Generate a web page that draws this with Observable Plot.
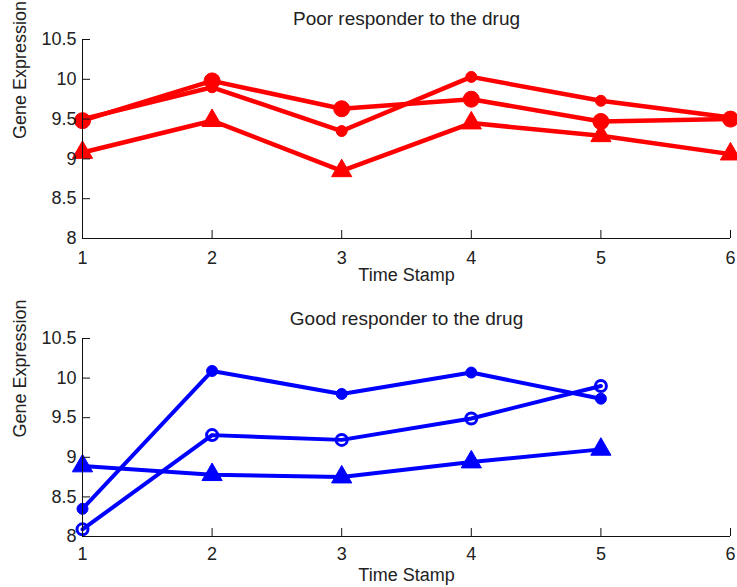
<!DOCTYPE html>
<html><head><meta charset="utf-8">
<script src="https://cdn.jsdelivr.net/npm/d3@7"></script>
<script src="https://cdn.jsdelivr.net/npm/@observablehq/plot@0.6"></script>
<style>
body{margin:0;background:#fff;}
#chart svg{display:block;overflow:visible}
</style></head><body><div id="chart"></div>
<script>
// ---- data ----
const poorTitle = "Poor responder to the drug";
const goodTitle = "Good responder to the drug";
const xLabel = "Time Stamp";
const yLabel = "Gene Expression";

const poorTime = [1, 2, 3, 4, 5, 6];
const poorBigCircle = [9.48, 9.98, 9.63, 9.75, 9.47, 9.50];
const poorSmallCircle = [9.50, 9.90, 9.35, 10.03, 9.73, 9.52];
const poorTriangle = [9.08, 9.48, 8.85, 9.45, 9.29, 9.06];

const goodTime = [1, 2, 3, 4, 5];
const goodFilledCircle = [8.35, 10.09, 9.80, 10.07, 9.74];
const goodOpenCircle = [8.09, 9.28, 9.22, 9.49, 9.90];
const goodTriangle = [8.89, 8.78, 8.75, 8.94, 9.10];

const xTicks = [1, 2, 3, 4, 5, 6];
const xTickLabels = ["1", "2", "3", "4", "5", "6"];
const yTicks = [8, 8.5, 9, 9.5, 10, 10.5];
const yTickLabels = ["8", "8.5", "9", "9.5", "10", "10.5"];

// ---- helpers ----
const W = 737, ML = 82, MR = 7;
const FONT = "Liberation Sans, Arial, sans-serif";
const TXT = "#222";

const rows = (times, values) => times.map((t, i) => ({t, v: values[i]}));

function panel({title, series, height, marginTop, marginBottom, titleDy, tickPad, labelDy, lineW}) {
  const frameH = height - marginTop - marginBottom;
  const frameW = W - ML - MR;
  const marks = [];
  for (const s of series) {
    const data = rows(s.times, s.values);
    marks.push(Plot.line(data, {x: "t", y: "v", stroke: s.color, strokeWidth: lineW, strokeLinejoin: "round"}));
    marks.push(Plot.dot(data, {x: "t", y: "v", symbol: s.symbol, r: s.r,
      fill: s.open ? "none" : s.color, stroke: s.color, strokeWidth: s.open ? 3 : 1}));
  }
  marks.push(
    Plot.ruleX([1], {stroke: "#111", strokeWidth: 1}),
    Plot.ruleY([8], {stroke: "#111", strokeWidth: 1}),
    Plot.tickX(xTicks, {x: d => d, insetTop: frameH - 8, stroke: "#111"}),
    Plot.tickY(yTicks, {y: d => d, insetRight: frameW - 8, stroke: "#111"}),
    Plot.axisX({ticks: xTicks, tickSize: 0, tickPadding: tickPad, label: null,
      tickFormat: d => xTickLabels[xTicks.indexOf(d)], fill: TXT}),
    Plot.axisY({ticks: yTicks, tickSize: 0, tickPadding: 6, label: null,
      tickFormat: d => yTickLabels[yTicks.indexOf(d)], fill: TXT}),
    Plot.text([title], {text: d => d, frameAnchor: "top", lineAnchor: "middle", dy: titleDy, fill: TXT, fontSize: 19}),
    Plot.text([xLabel], {text: d => d, frameAnchor: "bottom", lineAnchor: "middle", dy: labelDy, fill: TXT}),
    Plot.text([yLabel], {text: d => d, frameAnchor: "left", lineAnchor: "middle", dx: 20 - ML, rotate: -90, fill: TXT})
  );
  return Plot.plot({
    width: W, height, marginLeft: ML, marginRight: MR, marginTop, marginBottom,
    x: {domain: [1, 6], label: null},
    y: {domain: [8, 10.5], label: null},
    style: {fontSize: "18px", fontFamily: FONT, background: "#fff", overflow: "visible"},
    marks
  });
}

const red = "#ff0000", blue = "#0000ff";
const topPanel = panel({
  title: poorTitle, height: 293, marginTop: 39, marginBottom: 55, titleDy: -21, tickPad: 13, labelDy: 37, lineW: 4.5,
  series: [
    {times: poorTime, values: poorBigCircle, color: red, symbol: "circle", r: 8},
    {times: poorTime, values: poorSmallCircle, color: red, symbol: "circle", r: 5.5},
    {times: poorTime, values: poorTriangle, color: red, symbol: "triangle", r: 7.5}
  ]
});
const bottomPanel = panel({
  title: goodTitle, height: 294, marginTop: 45, marginBottom: 51, titleDy: -20, tickPad: 11, labelDy: 39, lineW: 4,
  series: [
    {times: goodTime, values: goodFilledCircle, color: blue, symbol: "circle", r: 5.5},
    {times: goodTime, values: goodOpenCircle, color: blue, symbol: "circle", r: 5.5, open: true},
    {times: goodTime, values: goodTriangle, color: blue, symbol: "triangle", r: 7.5}
  ]
});
document.getElementById("chart").append(topPanel, bottomPanel);
</script></body></html>
